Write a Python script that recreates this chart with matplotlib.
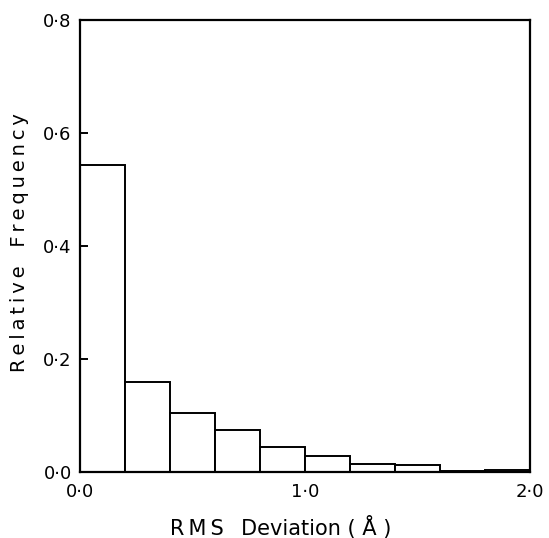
import matplotlib
matplotlib.use("Agg")
import matplotlib.pyplot as plt
from matplotlib.ticker import FuncFormatter

bin_edges = [0.0, 0.2, 0.4, 0.6, 0.8, 1.0, 1.2, 1.4, 1.6, 1.8, 2.0]
rel_freq = [0.544, 0.160, 0.105, 0.074, 0.044, 0.028, 0.015, 0.012, 0.001, 0.004]
x_ticks = [0.0, 1.0, 2.0]
y_ticks = [0.0, 0.2, 0.4, 0.6, 0.8]

plt.rcParams['font.family'] = ['DejaVu Sans']
fig = plt.figure(figsize=(5.49, 5.38), dpi=100)
ax = fig.add_axes([0.1457, 0.1227, 0.8197, 0.8401])

lefts = bin_edges[:-1]
widths = [b - a for a, b in zip(bin_edges[:-1], bin_edges[1:])]
ax.bar(lefts, rel_freq, width=widths, align='edge', facecolor='white',
       edgecolor='black', linewidth=1.4)

ax.set_xlim(0, 2.0)
ax.set_ylim(0, 0.8)
ax.set_xticks(x_ticks)
ax.set_yticks(y_ticks)
fmt = FuncFormatter(lambda v, p: f"{v:.1f}".replace('.', '\u00b7'))
ax.xaxis.set_major_formatter(fmt)
ax.yaxis.set_major_formatter(fmt)
ax.tick_params(axis='y', direction='in', length=6, width=1.4, labelsize=13, pad=6)
ax.tick_params(axis='x', direction='in', length=0, width=1.4, labelsize=13, pad=8)
for s in ax.spines.values():
    s.set_linewidth(1.6)

ts = '\u2009'
def spaced(word):
    return ts.join(word)

xlab = 'R' + ts + 'M' + ts + 'S' + '  ' + ts + 'Deviation' + ' ( \u00c5 )'
fig.text(281 / 549, 1 - 528 / 538, xlab, fontsize=15, ha='center', va='center')
ylab = spaced('Relative') + '   ' + spaced('Frequency')
fig.text(20 / 549, 1 - 243 / 538, ylab, fontsize=14, ha='center', va='center',
         rotation=90)

fig.savefig('out.png', dpi=100, facecolor='white')
